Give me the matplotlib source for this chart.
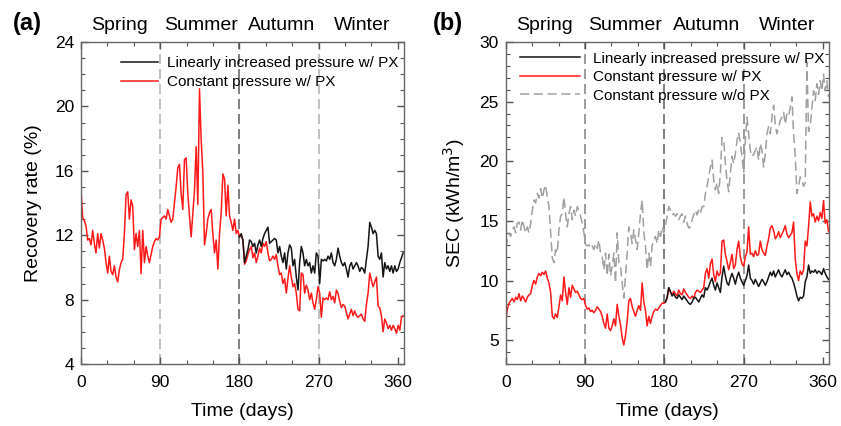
import numpy as np
import matplotlib
matplotlib.use("Agg")
import matplotlib.pyplot as plt
from matplotlib.ticker import MultipleLocator
import matplotlib.transforms as mtransforms

plt.rcParams['font.family'] = ['Liberation Sans', 'DejaVu Sans']

# ---------------- data: panel (a) recovery rate (%) ----------------
rec_const = [
    14.9, 13.1, 12.9, 12.6, 11.7, 11.8, 11.4, 12.3, 11.5, 10.9, 12.1, 11.2, 12.1, 11.7, 11.2, 10.3,
    9.65, 10.7, 9.75, 9.55, 10.1, 9.4, 9.1, 9.85, 10.3, 10.5, 12.1, 14.5, 14.7, 13.0, 14.2, 13.8,
    11.1, 12.1, 11.3, 12.3, 9.6, 12.3, 10.3, 11.3, 10.7, 10.3, 10.8, 11.3, 11.6, 11.8, 11.7, 11.9,
    13.0, 13.1, 13.2, 13.0, 13.6, 13.2, 12.8, 13.0, 14.0, 15.0, 16.2, 16.4, 14.6, 13.6, 16.7, 16.8,
    14.6, 13.2, 11.9, 13.4, 14.8, 17.5, 13.9, 21.1, 17.9, 15.9, 11.4, 12.1, 13.0, 13.4, 13.6, 12.1,
    10.9, 11.7, 9.9, 12.1, 13.4, 15.8, 15.5, 13.2, 15.1, 13.2, 12.8, 12.3, 13.0, 12.1, 12.3, 11.9,
    12.0, 11.7, 10.2, 10.4, 10.8, 11.1, 11.3, 10.6, 10.9, 10.3, 10.7, 11.2, 10.9, 11.5, 11.3, 11.6,
    10.9, 10.4, 10.5, 10.7, 10.5, 10.8, 10.1, 9.55, 9.65, 9.0, 9.3, 8.4, 9.3, 10.1, 9.4, 8.8,
    9.0, 8.4, 7.4, 7.3, 9.65, 9.55, 8.4, 8.9, 8.6, 8.0, 8.4, 7.8, 7.4, 8.0, 8.8, 8.4,
    6.9, 8.1, 8.0, 8.1, 8.0, 8.5, 8.0, 8.2, 7.8, 8.6, 8.4, 7.9, 7.5, 7.7, 7.6, 7.2,
    6.8, 7.1, 7.4, 7.0, 7.3, 7.0, 6.9, 7.0, 7.1, 6.8, 6.65, 7.7, 8.4, 9.65, 9.2, 8.8,
    9.1, 9.4, 7.6, 7.5, 7.0, 6.0, 6.8, 6.55, 6.2, 6.4, 6.1, 6.4, 6.2, 5.9, 6.4, 6.1,
    6.9, 7.0,
]
rec_linear = [
    11.9, 12.1, 11.7, 10.3, 10.7, 11.1, 11.7, 11.6, 11.3, 11.5, 10.9, 11.4, 11.7, 11.3, 11.8, 12.1,
    12.3, 12.5, 11.5, 11.6, 11.7, 11.8, 11.7, 10.9, 11.3, 10.7, 10.3, 10.9, 9.9, 10.9, 11.4, 11.2,
    10.1, 10.5, 9.4, 8.6, 10.3, 11.3, 10.9, 10.1, 10.5, 10.1, 10.3, 9.65, 10.1, 9.65, 10.9, 10.7,
    9.0, 10.5, 10.4, 10.5, 10.4, 10.7, 10.5, 10.9, 10.3, 10.1, 10.5, 11.2, 10.7, 10.3, 10.1, 10.3,
    9.9, 9.4, 10.1, 10.3, 9.9, 10.1, 10.3, 10.1, 9.75, 10.0, 9.9, 9.65, 10.5, 11.3, 12.8, 12.5,
    12.1, 12.3, 12.1, 10.7, 10.5, 10.9, 9.4, 10.3, 9.9, 10.1, 9.75, 10.1, 9.65, 10.1, 9.75, 9.9,
    10.3, 10.6, 10.9,
]

# ---------------- data: panel (b) SEC (kWh/m3) ----------------
sec_const = [
    6.6, 7.6, 8.1, 8.3, 8.5, 8.2, 8.6, 8.4, 8.9, 8.3, 8.7, 8.5, 8.2, 8.6, 8.8, 8.9,
    9.6, 10.0, 9.7, 10.3, 10.6, 10.4, 10.7, 10.5, 10.8, 10.2, 9.8, 9.0, 7.0, 6.8, 7.2, 6.9,
    7.8, 8.8, 8.3, 10.3, 9.0, 8.0, 9.4, 8.6, 9.6, 9.3, 9.0, 9.1, 8.8, 8.5, 8.4, 8.5,
    7.9, 7.6, 7.7, 7.4, 7.5, 7.3, 7.5, 7.8, 7.6, 7.4, 7.0, 6.4, 6.0, 7.2, 6.0, 5.8,
    6.2, 6.8, 6.2, 8.0, 7.0, 6.3, 5.2, 4.6, 5.4, 6.6, 8.3, 8.5, 7.8, 7.4, 7.0, 7.5,
    7.9, 7.5, 9.8, 8.2, 7.5, 6.2, 7.0, 6.4, 7.0, 7.4, 7.6, 7.5, 7.7, 7.9, 8.1, 8.1,
    8.2, 8.5, 9.4, 9.0, 8.8, 9.1, 8.9, 8.7, 9.2, 8.9, 8.8, 9.3, 9.0, 8.8, 8.6, 8.5,
    8.7, 8.5, 9.0, 9.2, 9.1, 9.0, 9.2, 9.4, 10.6, 11.0, 10.2, 11.4, 11.8, 10.5, 9.9, 10.8,
    10.4, 10.6, 13.3, 13.4, 12.2, 11.6, 10.9, 11.5, 12.2, 11.0, 11.3, 12.6, 13.3, 12.0, 11.4, 11.2,
    12.0, 12.4, 14.5, 12.2, 12.3, 12.0, 12.5, 12.1, 12.2, 13.3, 12.6, 12.3, 12.1, 12.9, 13.5, 14.4,
    14.6, 14.2, 13.5, 13.7, 14.1, 13.6, 13.9, 14.2, 14.6, 13.9, 13.6, 13.8, 14.0, 14.9, 11.8, 10.6,
    10.0, 10.8, 10.5, 10.9, 13.3, 12.9, 14.5, 16.6, 15.4, 15.6, 14.9, 15.4, 15.0, 15.7, 15.2, 16.7,
    14.8, 15.1, 14.1,
]
sec_linear = [
    8.2, 8.6, 9.4, 9.1, 8.7, 8.9, 8.6, 8.5, 8.8, 8.6, 8.4, 8.7, 8.5, 8.3, 8.1, 8.0,
    8.2, 8.5, 8.6, 8.4, 8.2, 8.5, 8.8, 8.6, 9.4, 9.2, 9.5, 9.9, 10.2, 9.6, 9.2, 9.8,
    9.4, 9.0, 10.3, 11.2, 10.4, 9.8, 9.6, 10.2, 10.6, 10.2, 9.7, 10.3, 10.7, 10.2, 9.9, 9.6,
    10.0, 10.4, 11.3, 10.2, 10.0, 9.7, 10.1, 9.8, 9.5, 9.8, 10.1, 9.9, 9.6, 9.9, 10.3, 10.7,
    10.4, 10.8, 10.3, 10.6, 10.9, 10.5, 10.3, 10.6, 10.9, 10.5, 10.7, 10.4, 10.2, 9.8, 9.3, 8.7,
    8.3, 8.6, 8.5, 8.7, 9.9, 10.3, 11.3, 10.6, 10.8, 10.7, 10.9, 10.6, 10.8, 10.7, 10.5, 11.0,
    10.6, 10.3, 10.1,
]
sec_nopx = [
    12.7, 13.4, 14.0, 13.7, 14.25, 14.5, 14.0, 14.8, 14.9, 14.25, 15.1, 14.5, 14.0, 14.5, 14.0, 14.8,
    15.9, 16.75, 16.5, 17.3, 16.9, 17.7, 16.9, 17.6, 18.0, 17.0, 16.2, 14.0, 11.9, 11.5, 12.6, 12.3,
    14.25, 15.4, 15.6, 17.0, 15.6, 14.5, 15.6, 16.2, 15.1, 15.9, 15.4, 16.2, 15.9, 15.4, 14.8, 14.0,
    13.0, 12.9, 13.0, 12.7, 12.9, 12.6, 13.1, 12.7, 13.4, 12.3, 12.0, 10.9, 12.3, 10.4, 12.2, 10.4,
    11.2, 12.3, 9.8, 14.0, 11.5, 11.2, 9.8, 8.55, 10.4, 12.3, 14.5, 14.0, 13.1, 14.25, 13.4, 12.6,
    14.0, 15.6, 16.75, 14.0, 12.9, 10.9, 12.3, 11.2, 12.9, 13.4, 13.7, 13.1, 14.25, 13.7, 14.5, 14.0,
    14.5, 15.4, 16.2, 15.9, 15.5, 15.6, 15.4, 15.6, 15.1, 15.4, 15.6, 14.9, 15.4, 14.8, 14.4, 14.5,
    15.1, 15.5, 15.9, 15.5, 15.9, 15.6, 16.2, 16.2, 17.3, 17.9, 18.7, 19.5, 20.1, 18.4, 17.6, 18.2,
    17.3, 19.0, 22.0, 21.75, 19.8, 18.4, 17.45, 19.0, 20.4, 19.8, 20.6, 21.75, 22.4, 21.5, 20.4, 19.0,
    21.75, 23.7, 22.3, 20.9, 20.4, 20.6, 20.9, 21.2, 20.1, 21.5, 20.9, 19.5, 20.6, 22.3, 22.9, 22.3,
    23.7, 24.7, 23.1, 22.3, 22.9, 23.4, 23.7, 24.1, 23.1, 24.0, 23.8, 24.5, 25.4, 22.3, 20.4, 17.3,
    17.9, 18.7, 18.4, 17.9, 18.2, 28.3, 22.5, 23.0, 24.5, 25.9, 25.1, 26.5, 25.6, 26.75, 25.9, 27.3,
    25.9, 26.75, 25.4,
]

season_names = ["Spring", "Summer", "Autumn", "Winter"]
season_centers = [44, 136, 228, 320]
boundaries = [90, 180, 270]
xticks = [0, 90, 180, 270, 360]

days_a = np.linspace(0, 366, len(rec_const))
days_b = np.linspace(0, 366.5, len(sec_const))
days_b_gray = np.linspace(0, 366.5, len(sec_nopx))

fig = plt.figure(figsize=(8.41, 4.26), dpi=100)
axA = fig.add_axes([0.0963, 0.1455, 0.3841, 0.7559])
axB = fig.add_axes([0.6013, 0.1455, 0.3844, 0.7559])

RED = '#ff1a1a'
BLACK = '#151515'


def style(ax, ylim, ymaj, ylabel):
    ax.set_xlim(0, 367)
    ax.set_ylim(*ylim)
    ax.set_xticks(xticks)
    ax.xaxis.set_minor_locator(MultipleLocator(30))
    ax.yaxis.set_major_locator(MultipleLocator(ymaj))
    ax.yaxis.set_minor_locator(MultipleLocator(1))
    ax.tick_params(which='both', direction='in', top=True, right=True,
                   colors='#555555', labelcolor='black', labelsize=12.5)
    ax.tick_params(which='major', length=5, width=1, pad=5)
    ax.tick_params(axis='x', which='major', pad=8)
    ax.tick_params(which='minor', length=3, width=0.8)
    for s in ax.spines.values():
        s.set_color('#666666')
        s.set_linewidth(1.0)
    ax.set_xlabel('Time (days)', fontsize=14, labelpad=9)
    ax.set_ylabel(ylabel, fontsize=14, labelpad=9)
    trans = mtransforms.blended_transform_factory(ax.transData, ax.transAxes)
    for name, c in zip(season_names, season_centers):
        ax.text(c, 1.05, name, transform=trans, ha='center', va='center', fontsize=14)


# panel (a)
for b, col in zip(boundaries, ['#b5b5b5', '#6a6a6a', '#b5b5b5']):
    axA.axvline(b, color=col, lw=1.2, ls=(0, (6, 3)), zorder=1)
axA.plot(days_a[-len(rec_linear):], rec_linear, color=BLACK, lw=1.1,
         label='Linearly increased pressure w/ PX', zorder=3)
axA.plot(days_a, rec_const, color=RED, lw=1.1, label='Constant pressure w/ PX', zorder=2)
style(axA, (4, 24), 4, 'Recovery rate (%)')
axA.legend(loc='upper left', bbox_to_anchor=(0.124, 0.955), frameon=False, fontsize=11,
           handlelength=2.4, handletextpad=0.6, labelspacing=0.3, borderpad=0, borderaxespad=0)
fig.text(0.032, 0.945, '(a)', fontsize=17, fontweight='bold', ha='center', va='center')

# panel (b)
for b, col in zip(boundaries, ['#8a8a8a', '#6a6a6a', '#8a8a8a']):
    axB.axvline(b, color=col, lw=1.2, ls=(0, (6, 3)), zorder=1)
axB.plot(days_b[-len(sec_linear):], sec_linear, color=BLACK, lw=1.1,
         label='Linearly increased pressure w/ PX', zorder=3)
axB.plot(days_b, sec_const, color=RED, lw=1.1, label='Constant pressure w/ PX', zorder=2)
axB.plot(days_b_gray, sec_nopx, color='#a0a0a0', lw=1.1, ls=(0, (6, 3)),
         label='Constant pressure w/o PX', zorder=2)
style(axB, (3, 30), 5, 'SEC (kWh/m$^3$)')
axB.legend(loc='upper left', bbox_to_anchor=(0.044, 0.97), frameon=False, fontsize=11,
           handlelength=3.9, handletextpad=0.9, labelspacing=0.3, borderpad=0, borderaxespad=0)
fig.text(0.533, 0.945, '(b)', fontsize=17, fontweight='bold', ha='center', va='center')

fig.savefig('out.png', dpi=100)
